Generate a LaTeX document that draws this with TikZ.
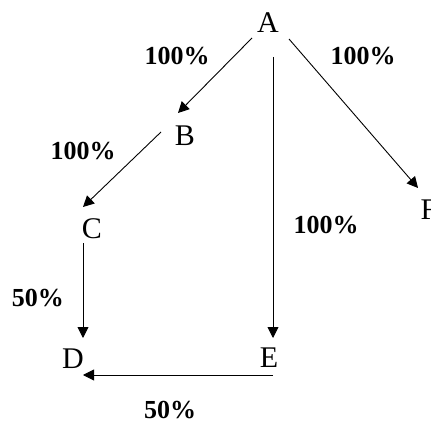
\documentclass[tikz,border=0pt]{standalone}
\usepackage{fontspec}
\setmainfont{Liberation Serif}
\usetikzlibrary{arrows.meta}
\begin{document}
\begin{tikzpicture}[x=1pt, y=-1pt, every node/.style={inner sep=0pt},
  ltr/.style={font=\fontsize{30}{30}\selectfont},
  pct/.style={font=\fontsize{26}{26}\selectfont\bfseries},
  arr/.style={-{Triangle[length=11pt,width=11pt]}, line width=0.9pt}]
\useasboundingbox (0,0) rectangle (431,422);
% letters
\node[ltr] (A) at (268,23) {A};
\node[ltr] (B) at (185,136) {B};
\node[ltr] (C) at (92,229) {C};
\node[ltr] (D) at (73,359) {D};
\node[ltr] (E) at (269,358) {E};
\node[ltr] (F) at (429,210) {F};
% percentages
\node[pct] (ab) at (177,56) {100\%};
\node[pct] (af) at (363,56) {100\%};
\node[pct] (bc) at (83,151) {100\%};
\node[pct] (ae) at (326,225) {100\%};
\node[pct] (cd) at (38,298) {50\%};
\node[pct] (ed) at (170,410) {50\%};
% arrows
\draw[arr] ([shift={(-16,15)}]A.center) -- ([shift={(-7,-23)}]B.center);
\draw[arr] ([shift={(5,34)}]A.center) -- ([shift={(4,-20)}]E.center);
\draw[arr] ([shift={(21,16)}]A.center) -- ([shift={(-11,-22)}]F.center);
\draw[arr] ([shift={(-24,-4)}]B.center) -- ([shift={(-9,-22)}]C.center);
\draw[arr] ([shift={(-9,14)}]C.center) -- ([shift={(10,-21)}]D.center);
\draw[arr] ([shift={(4,17)}]E.center) -- ([shift={(10,16)}]D.center);
\end{tikzpicture}
\end{document}
